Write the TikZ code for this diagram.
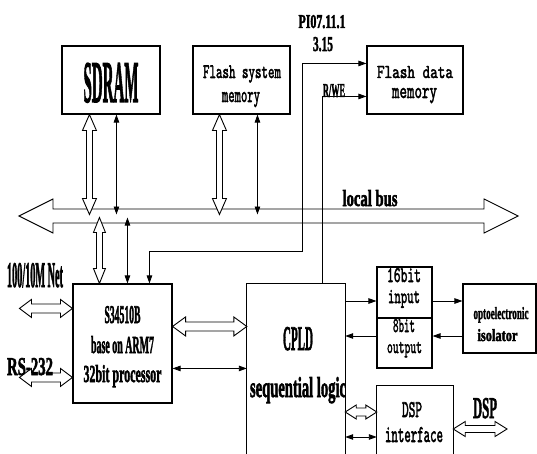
\documentclass[tikz,border=0pt]{standalone}
\usepackage{fontspec}
\setmainfont{Liberation Serif}
\newfontfamily\condfont[FakeBold=2.5]{Liberation Serif}
\newfontfamily\monofont[FakeBold=2.5]{lmmono10-regular.otf}
\XeTeXuseglyphmetrics=1
\usepackage{graphicx}
\usetikzlibrary{arrows.meta,calc}
% text fitted to a measured width and height above the baseline
\newcommand\rb[3]{\resizebox{#1pt}{#2pt}{#3}}
% horizontal hollow double arrow: #1 left tip, #2 right tip, #3 head length, #4 head half width, #5 shaft half width
\newcommand\hollowH[5]{\draw[hol] let \p1=#1, \p2=#2 in (\x1,\y1) -- (\x1+#3,\y1+#4) -- (\x1+#3,\y1+#5) -- (\x2-#3,\y1+#5) -- (\x2-#3,\y1+#4) -- (\x2,\y1) -- (\x2-#3,\y1-#4) -- (\x2-#3,\y1-#5) -- (\x1+#3,\y1-#5) -- (\x1+#3,\y1-#4) -- cycle;}
% vertical hollow double arrow: #1 top tip, #2 bottom tip
\newcommand\hollowV[5]{\draw[hol] let \p1=#1, \p2=#2 in (\x1,\y1) -- (\x1+#4,\y1-#3) -- (\x1+#5,\y1-#3) -- (\x1+#5,\y2+#3) -- (\x1+#4,\y2+#3) -- (\x1,\y2) -- (\x1-#4,\y2+#3) -- (\x1-#5,\y2+#3) -- (\x1-#5,\y1-#3) -- (\x1-#4,\y1-#3) -- cycle;}
\tikzset{
  box/.style={draw,line width=1.1pt,inner sep=0pt},
  hol/.style={draw,line width=0.9pt,fill=white,line join=miter},
  thin/.style={line width=0.9pt},
  cond/.style={inner sep=0pt,anchor=base,font=\condfont\bfseries\fontsize{20}{20}\selectfont},
  mono/.style={inner sep=0pt,anchor=base,font=\monofont\fontsize{20}{20}\selectfont},
  >={Triangle[length=8pt,width=5.5pt]}
}
\begin{document}
\begin{tikzpicture}[x=1pt,y=-1pt]
\useasboundingbox (0,0) rectangle (537,454);
% boxes
\node[box,minimum width=98pt,minimum height=68pt] (sdram) at (111,80) {};
\node[box,minimum width=97pt,minimum height=68pt] (fsys) at (241.5,80) {};
\node[box,minimum width=96pt,minimum height=68pt] (fdata) at (415,80) {};
\node[box,minimum width=99pt,minimum height=119pt] (arm) at (122.5,343.5) {};
\node[inner sep=0pt,minimum width=98pt,minimum height=171pt] (cpld) at (296,369.5) {};
\draw[line width=1.1pt] (cpld.south west) -- (cpld.north west) -- (cpld.north east) -- (cpld.south east);
\node[box,minimum width=55pt,minimum height=51pt] (in16) at (404.5,292.5) {};
\node[box,minimum width=55pt,minimum height=50pt] (out8) at (404.5,343) {};
\node[box,minimum width=73pt,minimum height=69pt] (opto) at (499.5,318.5) {};
\node[inner sep=0pt,minimum width=76pt,minimum height=69pt] (dspif) at (415,420.5) {};
\draw[line width=1.1pt] (dspif.south west) -- (dspif.north west) -- (dspif.north east) -- (dspif.south east);
% local bus
\coordinate (busL) at (19,216);
\coordinate (busR) at (518,216);
\coordinate (busU) at (0,214.5);
\coordinate (busD) at (0,217.5);
\hollowH{(busL)}{(busR)}{34pt}{17pt}{7pt}
% control lines to flash data memory
\coordinate (armA) at ($(arm.north west)+(77,0)$);
\coordinate (bend) at (302,251);
\draw[thin,<->] (armA) |- (bend) |- ($(fdata.north west)+(0,18)$);
\coordinate (cA) at ($(cpld.north west)+(76,0)$);
\draw[thin,->] (cA) |- ($(fdata.north west)+(0,51)$);
% SDRAM to bus
\coordinate (s1) at ($(sdram.south west)+(28,0)$);
\coordinate (s2) at ($(sdram.south west)+(55,0)$);
\hollowV{(s1)}{(s1 |- busU)}{16pt}{7pt}{3pt}
\draw[thin,<->] (s2) -- (s2 |- busU);
% Flash system memory to bus
\coordinate (f1) at ($(fsys.south west)+(27,0)$);
\coordinate (f2) at ($(fsys.south west)+(65,0)$);
\hollowV{(f1)}{(f1 |- busU)}{16pt}{7pt}{3pt}
\draw[thin,<->] (f2) -- (f2 |- busU);
% bus to ARM
\coordinate (a1) at ($(arm.north west)+(27,0)$);
\coordinate (a2) at ($(arm.north west)+(55,0)$);
\hollowV{(a1 |- busD)}{(a1)}{15pt}{6pt}{3pt}
\draw[thin,<->] (a2 |- busD) -- (a2);
% left interfaces
\coordinate (n1) at ($(arm.north west)+(-53,25)$);
\hollowH{(n1)}{(n1 -| arm.west)}{12pt}{9pt}{4.5pt}
\coordinate (r1) at ($(arm.north west)+(-53,94)$);
\hollowH{(r1)}{(r1 -| arm.west)}{12pt}{9pt}{4.5pt}
% ARM to CPLD
\coordinate (ac1) at ($(arm.north east)+(0,43)$);
\hollowH{(ac1)}{(ac1 -| cpld.west)}{13pt}{9.5pt}{4.5pt}
\coordinate (ac2) at ($(arm.north east)+(0,85)$);
\draw[thin,<->] (ac2) -- (ac2 -| cpld.west);
% CPLD, input/output, isolator
\coordinate (i1) at ($(in16.west)+(0,8.5)$);
\draw[thin,->] (i1 -| cpld.east) -- (i1);
\draw[thin,->] (i1 -| in16.east) -- (i1 -| opto.west);
\coordinate (o1) at ($(out8.east)+(0,-7)$);
\draw[thin,->] (o1 -| opto.west) -- (o1);
\draw[thin,->] (o1 -| out8.west) -- (o1 -| cpld.east);
% CPLD to DSP interface
\coordinate (d1) at ($(dspif.west)+(0,-8.5)$);
\hollowH{(d1 -| cpld.east)}{(d1)}{11pt}{7pt}{4pt}
\coordinate (d2) at ($(dspif.west)+(0,16.5)$);
\draw[thin,<->] (d2 -| cpld.east) -- (d2);
\coordinate (d3) at ($(dspif.east)+(0,8.5)$);
\coordinate (dspX) at (507,429);
\hollowH{(d3)}{(dspX)}{12pt}{7.5pt}{3.5pt}
% texts (condensed serif)
\node[cond] (sdramT) at (111,102) {\rb{55}{39}{SDRAM}};
\node[cond] (netT) at (35,287) {\rb{56}{24}{100/10M Net}};
\node[cond] (rsT) at (30,375) {\rb{46}{17}{RS-232}};
\node[cond] (cpldT1) at (298,350) {\rb{30}{23}{CPLD}};
\node[cond] (cpldT2) at (298,397) {\rb{96}{20}{sequential logic}};
\node[cond] (busT) at (370,206) {\rb{55}{16}{local bus}};
\node[cond] (armT1) at (122.5,323) {\rb{36}{17}{S34510B}};
\node[cond] (armT2) at (122.5,353) {\rb{63}{17}{base on ARM7}};
\node[cond] (armT3) at (122.5,382) {\rb{78}{17}{32bit processor}};
\node[cond] (optoT1) at (501,319) {\rb{55}{12}{optoelectronic}};
\node[cond] (optoT2) at (497.5,341) {\rb{40}{12}{isolator}};
\node[cond] (piT1) at (322,28) {\rb{47}{13}{PI07.11.1}};
\node[cond] (piT2) at (323,51) {\rb{20}{14}{3.15}};
\node[cond] (rwT) at (334,97) {\rb{22}{13}{R/WE}};
\node[cond] (dspT) at (485,418) {\rb{24}{20}{DSP}};
% texts (monospace)
\node[mono] (fsysT1) at (242,78) {\rb{78}{12.5}{Flash system}};
\node[mono] (fsysT2) at (241,102) {\rb{38}{10}{memory}};
\node[mono] (fdataT1) at (415,78) {\rb{76}{12}{Flash data}};
\node[mono] (fdataT2) at (414.5,98) {\rb{45}{10}{memory}};
\node[mono] (in16T1) at (404,282) {\rb{34}{14}{16bit}};
\node[mono] (in16T2) at (404,303) {\rb{32}{13}{input}};
\node[mono] (out8T1) at (404,332) {\rb{22}{13}{8bit}};
\node[mono] (out8T2) at (404.5,353) {\rb{35}{11}{output}};
\node[mono] (dspifT1) at (412,417) {\rb{20}{15}{DSP}};
\node[mono] (dspifT2) at (414,442) {\rb{58}{15}{interface}};
\end{tikzpicture}
\end{document}
